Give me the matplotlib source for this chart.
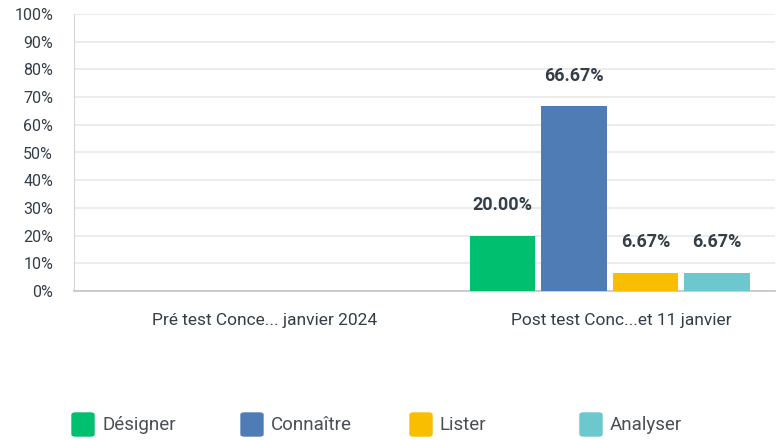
import numpy as np
import matplotlib
matplotlib.use('Agg')
import matplotlib.pyplot as plt
from matplotlib.patches import FancyBboxPatch

plt.rcParams['font.family'] = ['Roboto', 'DejaVu Sans']

# data
groups = ['Pré test Conce... janvier 2024', 'Post test Conc...et 11 janvier']
series = ['Désigner', 'Connaître', 'Lister', 'Analyser']
pre_values = [0, 0, 0, 0]
post_values = [20.00, 66.67, 6.67, 6.67]
colors = ['#00BF6F', '#507CB6', '#F9BE00', '#6CC8CD']
y_ticks = [0, 10, 20, 30, 40, 50, 60, 70, 80, 90, 100]

text_col = '#333E48'

fig = plt.figure(figsize=(7.79, 4.40), dpi=100)
ax = fig.add_axes([74 / 779, 1 - 291 / 440, 701 / 779, 277 / 440])

x = np.arange(len(groups))
step = 0.2075
width = 0.19
for i, name in enumerate(series):
    vals = [pre_values[i], post_values[i]]
    pos = x + (i - 1.5) * step
    ax.bar(pos, vals, width=width, color=colors[i], zorder=3)
    for xp, v in zip(pos, vals):
        if v > 0:
            ax.annotate(f'{v:.2f}%', (xp, v), xytext=(0, 22), textcoords='offset points',
                        ha='center', va='center', fontsize=13, fontweight='bold', color=text_col)

ax.set_ylim(0, 100)
ax.set_xlim(-0.554, 1.48)
ax.set_yticks(y_ticks)
ax.set_yticklabels([f'{t}%' for t in y_ticks])
ax.set_xticks(x + np.array([0, 0.033]))
ax.set_xticklabels(groups)
ax.tick_params(axis='y', length=0, pad=15, labelsize=11.5, labelcolor=text_col)
ax.tick_params(axis='x', length=0, pad=16, labelsize=12.5, labelcolor=text_col)
ax.grid(axis='y', color='#E9E9E9', linewidth=1.2, zorder=0)
for s in ['top', 'right']:
    ax.spines[s].set_visible(False)
ax.spines['left'].set_color('#D5D5D5')
ax.spines['bottom'].set_color('#C8C8C8')
ax.spines['bottom'].set_linewidth(1.3)

# legend
leg_x = [72, 241, 410, 580]
for lx, name, c in zip(leg_x, series, colors):
    fig.patches.append(FancyBboxPatch((lx / 779, (440 - 436) / 440), 22 / 779, 23 / 440,
                                      boxstyle='round,pad=0,rounding_size=0.004',
                                      transform=fig.transFigure, color=c))
    fig.text((lx + 30) / 779, 1 - 425 / 440, name, fontsize=13.5, color='#4A4F55', va='center')

fig.savefig('out.png', dpi=100)
